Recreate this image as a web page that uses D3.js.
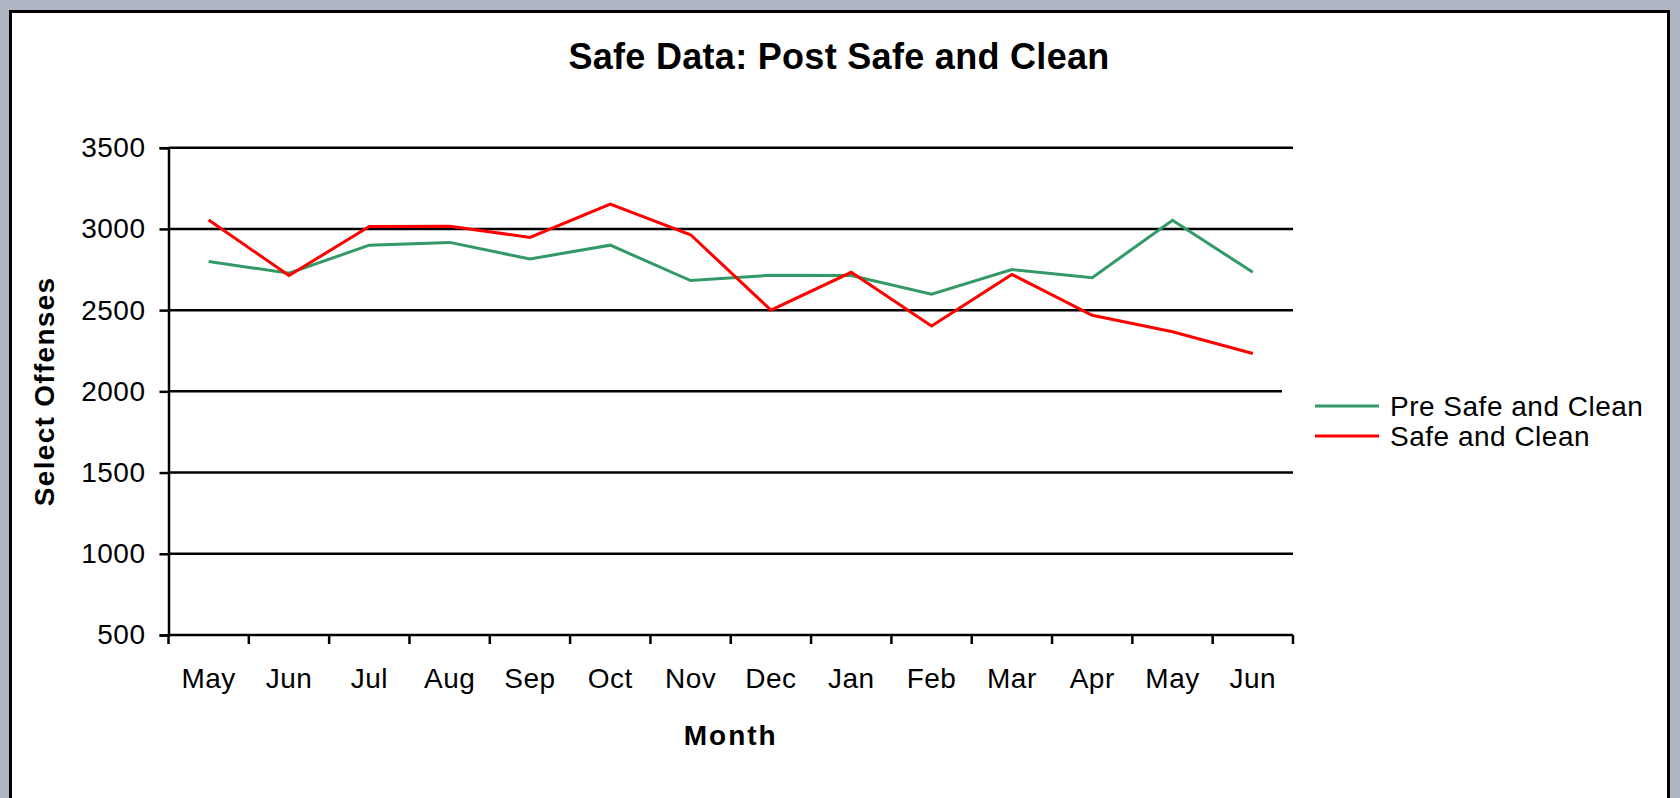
<!DOCTYPE html>
<html lang="en">
<head>
<meta charset="utf-8">
<title>Safe Data: Post Safe and Clean</title>
<style>
  html, body { margin: 0; padding: 0; background: #afb5c3; }
  svg { display: block; }
  text { font-family: "Liberation Sans", Arial, sans-serif; fill: #000; }
</style>
</head>
<body>
<svg id="chart" width="1680" height="798"></svg>
<script src="https://d3js.org/d3.v7.min.js"></script>
<script>
// month labels, in order (two May / Jun at the ends)
const months = ["May", "Jun", "Jul", "Aug", "Sep", "Oct", "Nov", "Dec", "Jan", "Feb", "Mar", "Apr", "May", "Jun"];
const preSafe = [2800, 2727, 2900, 2917, 2815, 2900, 2682, 2715, 2713, 2598, 2750, 2700, 3053, 2733];
const safeClean = [3055, 2713, 3015, 3016, 2948, 3153, 2964, 2500, 2733, 2403, 2720, 2468, 2367, 2233];
const yTicks = [500, 1000, 1500, 2000, 2500, 3000, 3500];
const seriesNames = ["Pre Safe and Clean", "Safe and Clean"];
const seriesColors = ["#339966", "#ff0000"];

const svg = d3.select("#chart");

// white panel with black frame
svg.append("rect")
  .attr("x", 10.5).attr("y", 11.5)
  .attr("width", 1658).attr("height", 800)
  .attr("fill", "#fff").attr("stroke", "#000").attr("stroke-width", 3);

const plotL = 168.5, plotR = 1293, plotT = 147.7, plotB = 635;

const x = d3.scaleBand().domain(d3.range(months.length)).range([plotL, plotR]);
const y = d3.scaleLinear().domain([500, 3500]).range([plotB, plotT]);

// title
svg.append("text")
  .attr("x", 839).attr("y", 69)
  .attr("text-anchor", "middle")
  .style("font-size", "36px").style("font-weight", "bold").style("letter-spacing", "0.3px")
  .text("Safe Data: Post Safe and Clean");

// horizontal gridlines
svg.append("g")
  .selectAll("line")
  .data(yTicks.filter(d => d > 500))
  .join("line")
  .attr("x1", plotL).attr("x2", plotR)
  .attr("y1", d => y(d)).attr("y2", d => y(d))
  .attr("stroke", "#000").attr("stroke-width", 2.5);

// y axis
const yAxis = svg.append("g")
  .attr("transform", `translate(${plotL},0)`)
  .call(d3.axisLeft(y).tickValues(yTicks).tickFormat(d3.format("d")).tickSize(9).tickPadding(14));
yAxis.select(".domain").attr("stroke-width", 2.5);
yAxis.selectAll(".tick line").attr("stroke-width", 2.5);
yAxis.selectAll(".tick text")
  .style("font-size", "28px").style("font-family", "'Liberation Sans', Arial, sans-serif")
  .style("letter-spacing", "0.5px");

// x axis: ticks sit on the category boundaries
const xAxisG = svg.append("g").attr("transform", `translate(0,${plotB})`);
xAxisG.append("line")
  .attr("x1", plotL).attr("x2", plotR)
  .attr("stroke", "#000").attr("stroke-width", 2.5);
xAxisG.selectAll(".tk")
  .data(d3.range(months.length + 1))
  .join("line")
  .attr("class", "tk")
  .attr("x1", i => plotL + i * x.step()).attr("x2", i => plotL + i * x.step())
  .attr("y1", 0).attr("y2", 9)
  .attr("stroke", "#000").attr("stroke-width", 2.5);
xAxisG.selectAll(".lbl")
  .data(months)
  .join("text")
  .attr("class", "lbl")
  .attr("x", (d, i) => x(i) + x.bandwidth() / 2)
  .attr("y", 53)
  .attr("text-anchor", "middle")
  .style("font-size", "28px").style("letter-spacing", "0.5px")
  .text(d => d);

// axis titles
svg.append("text")
  .attr("x", (plotL + plotR) / 2).attr("y", 745)
  .attr("text-anchor", "middle")
  .style("font-size", "28px").style("font-weight", "bold").style("letter-spacing", "2px")
  .text("Month");

svg.append("text")
  .attr("transform", `translate(54,${(plotT + plotB) / 2}) rotate(-90)`)
  .attr("text-anchor", "middle")
  .style("font-size", "28px").style("font-weight", "bold").style("letter-spacing", "1.3px")
  .text("Select Offenses");

// series lines
const line = d3.line()
  .x((d, i) => x(i) + x.bandwidth() / 2)
  .y(d => y(d));

[preSafe, safeClean].forEach((vals, k) => {
  svg.append("path")
    .datum(vals)
    .attr("fill", "none")
    .attr("stroke", seriesColors[k])
    .attr("stroke-width", 3)
    .attr("stroke-linejoin", "miter")
    .attr("d", line);
});

// legend (white box covers the end of the 2000 gridline)
const lg = svg.append("g");
lg.append("rect")
  .attr("x", 1282).attr("y", 386)
  .attr("width", 280).attr("height", 70)
  .attr("fill", "#fff");
seriesNames.forEach((name, k) => {
  const ly = 406 + k * 30;
  lg.append("line")
    .attr("x1", 1315).attr("x2", 1379)
    .attr("y1", ly).attr("y2", ly)
    .attr("stroke", seriesColors[k]).attr("stroke-width", 3);
  lg.append("text")
    .attr("x", 1390).attr("y", ly)
    .attr("dy", "0.35em")
    .style("font-size", "28px").style("letter-spacing", "0.5px")
    .text(name);
});
</script>
</body>
</html>
